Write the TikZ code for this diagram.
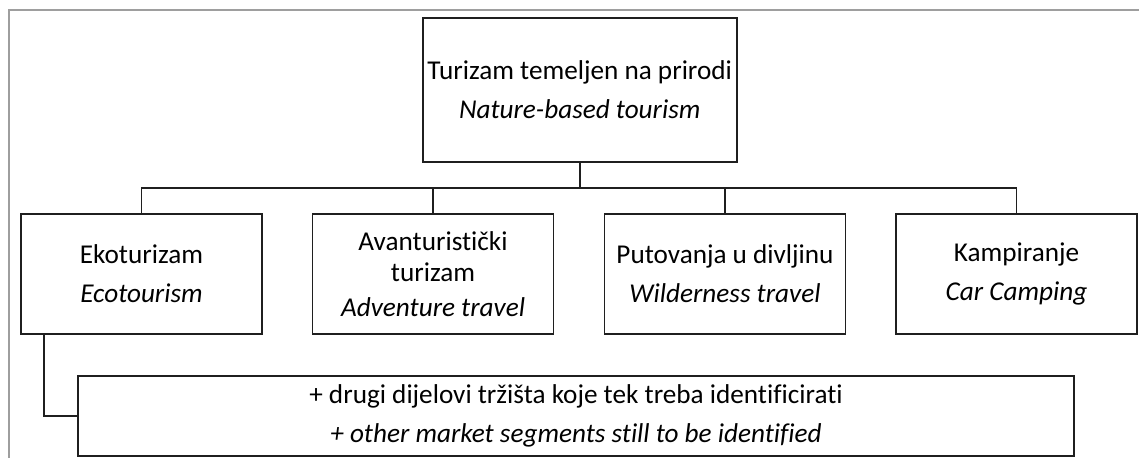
\documentclass[tikz,border=0pt]{standalone}
\usepackage{fontspec}
\setmainfont{Carlito}[Ligatures=NoCommon]
\begin{document}
\begin{tikzpicture}[x=1pt,y=-1pt,
  box/.style={draw=black!88, line width=1.7pt, rectangle, inner sep=0pt, align=center,
    minimum height=120pt, minimum width=241pt, font=\fontsize{27.2}{31}\selectfont},
  link/.style={draw=black!88, line width=1.7pt},
  frame/.style={draw=black!38, line width=1.3pt}]
\useasboundingbox (0,0) rectangle (1139,458);
\draw[frame] (1139,10) -- (9,10) -- (9,458);
\node[box, minimum width=314pt, minimum height=144pt] (top) at (579.7,90)
  {Turizam temeljen na prirodi\\[8pt]\textit{Nature-based tourism}};
\node[box] (eko) at (141.5,274) {Ekoturizam\\[8pt]\textit{Ecotourism}};
\node[box] (avant) at (433,274) {Avanturistički\\turizam\\[4pt]\textit{Adventure travel}};
\node[box] (put) at (725,274) {Putovanja u divljinu\\[8pt]\textit{Wilderness travel}};
\node[box] (kamp) at (1016.5,274) {Kampiranje\\[8pt]\textit{Car Camping}};
\node[box, minimum width=996pt, minimum height=80pt] (other) at (576,416)
  {+ drugi dijelovi tržišta koje tek treba identificirati\\[8pt]\textit{+ other market segments still to be identified}};
\coordinate (bus) at (579.7,188);
\draw[link] (top.south) -- (bus);
\draw[link] (eko.north) |- (bus) -| (kamp.north);
\draw[link] (avant.north) -- (avant.north |- bus);
\draw[link] (put.north) -- (put.north |- bus);
\draw[link] ([xshift=24pt]eko.south west) |- (other.west);
\end{tikzpicture}
\end{document}
